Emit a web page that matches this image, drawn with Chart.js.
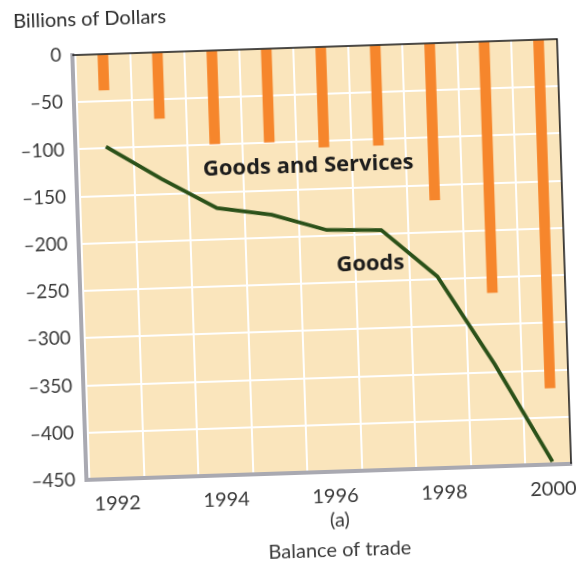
<!DOCTYPE html>
<html>
<head>
<meta charset="utf-8">
<script src="https://cdn.jsdelivr.net/npm/chart.js@4.4.0/dist/chart.umd.min.js"></script>
<style>
  html, body { margin: 0; padding: 0; background: #fff; overflow: hidden; }
  /* a digitalização original está levemente girada */
  #wrap { width: 583px; height: 565px; transform: rotate(-1.9deg); transform-origin: 50% 50%; }
</style>
</head>
<body>
<div id="wrap"><canvas id="grafico" width="583" height="565"></canvas></div>
<script>
// --- DADOS (bilhões de dólares) ---
const anos = [1992, 1993, 1994, 1995, 1996, 1997, 1998, 1999, 2000];
const bensEServicos = [-38, -70, -99, -99, -106, -106, -166, -266, -369];
const bens = [-98, -134, -167, -176, -194, -196, -247, -342, -447];
const ticksY = [0, -50, -100, -150, -200, -250, -300, -350, -400, -450];
const rotulosAnos = [1992, 1994, 1996, 1998, 2000];
const meiosAnos = [1991.5, 1992.5, 1993.5, 1994.5, 1995.5, 1996.5, 1997.5, 1998.5, 1999.5];

const FONTE = 'Lato, "Open Sans", sans-serif';
const TRANSP = 'rgba(0,0,0,0)';

// fundo bege, bordas pretas e os textos soltos
const decoracaoPlugin = {
    id: 'decoracao',
    beforeDraw(chart) {
        const { ctx, chartArea: a } = chart;
        ctx.save();
        ctx.fillStyle = '#fae5bc';
        ctx.fillRect(a.left, a.top, a.right - a.left, a.bottom - a.top);
        ctx.restore();
    },
    afterDatasetsDraw(chart) {
        const { ctx, scales } = chart;
        ctx.save();
        ctx.fillStyle = '#1c1c1c';
        ctx.textAlign = 'center';
        ctx.textBaseline = 'middle';
        ctx.font = 'bold 22px "Open Sans", sans-serif';
        ctx.fillText('Goods and Services', scales.x.getPixelForValue(1995.7), scales.y.getPixelForValue(-126));
        ctx.fillText('Goods', scales.x.getPixelForValue(1996.78), scales.y.getPixelForValue(-232));
        ctx.restore();
    },
    afterDraw(chart) {
        const { ctx, chartArea: a } = chart;
        ctx.save();
        ctx.strokeStyle = '#111';
        ctx.lineWidth = 1.5;
        ctx.beginPath();
        ctx.moveTo(a.left, a.top);
        ctx.lineTo(a.right, a.top);
        ctx.lineTo(a.right, a.bottom);
        ctx.stroke();

        ctx.fillStyle = '#2a2a2a';
        ctx.textBaseline = 'middle';
        ctx.font = '20px ' + FONTE;
        ctx.textAlign = 'left';
        ctx.fillText('Billions of Dollars', 22, 13);
        ctx.textAlign = 'center';
        ctx.fillStyle = '#3a3a3a';
        ctx.fillText('(a)', 332, 522);
        ctx.fillText('Balance of trade', 331, 552);
        ctx.restore();
    }
};

new Chart(document.getElementById('grafico').getContext('2d'), {
    data: {
        datasets: [
            {
                type: 'line',
                label: 'Goods',
                data: anos.map((a, i) => ({ x: a, y: bens[i] })),
                borderColor: '#2b5119',
                borderWidth: 3.8,
                pointRadius: 0,
                tension: 0,
                order: 0
            },
            {
                type: 'bar',
                label: 'Goods and Services',
                data: anos.map((a, i) => ({ x: a, y: bensEServicos[i] })),
                backgroundColor: '#f6862c',
                barThickness: 10,
                order: 1
            }
        ]
    },
    options: {
        responsive: false,
        animation: false,
        events: [],
        layout: { padding: { top: 48, right: 10, left: 0, bottom: 0 } },
        plugins: { legend: { display: false }, tooltip: { enabled: false } },
        scales: {
            x: {
                type: 'linear',
                offset: false,
                min: 1991.44,
                max: 2000.34,
                afterBuildTicks: s => {
                    s.ticks = meiosAnos.concat(rotulosAnos).sort((a, b) => a - b).map(v => ({ value: v }));
                },
                afterFit: s => { s.height = 92; },
                grid: {
                    offset: false,
                    color: c => (c.tick && c.tick.value % 1 !== 0) ? '#ffffff' : TRANSP,
                    lineWidth: 2,
                    drawTicks: false
                },
                border: { color: '#a9a9b1', width: 4 },
                ticks: {
                    autoSkip: false, maxRotation: 0, minRotation: 0,
                    padding: 13,
                    color: '#3a3a3a',
                    font: { family: FONTE, size: 20 },
                    callback: v => rotulosAnos.includes(v) ? String(v) : ''
                }
            },
            y: {
                type: 'linear',
                min: -450,
                max: 0,
                afterBuildTicks: s => { s.ticks = ticksY.map(v => ({ value: v })); },
                afterFit: s => { s.width = 80; },
                grid: {
                    color: c => (c.tick && (c.tick.value === 0 || c.tick.value === -450)) ? TRANSP : '#ffffff',
                    lineWidth: 2,
                    drawTicks: false
                },
                border: { color: '#a9a9b1', width: 4 },
                ticks: {
                    padding: 11,
                    color: '#3a3a3a',
                    font: { family: FONTE, size: 19 },
                    callback: v => v === 0 ? '0' : '\u2013' + Math.abs(v)
                }
            }
        }
    },
    plugins: [decoracaoPlugin]
});
</script>
</body>
</html>
